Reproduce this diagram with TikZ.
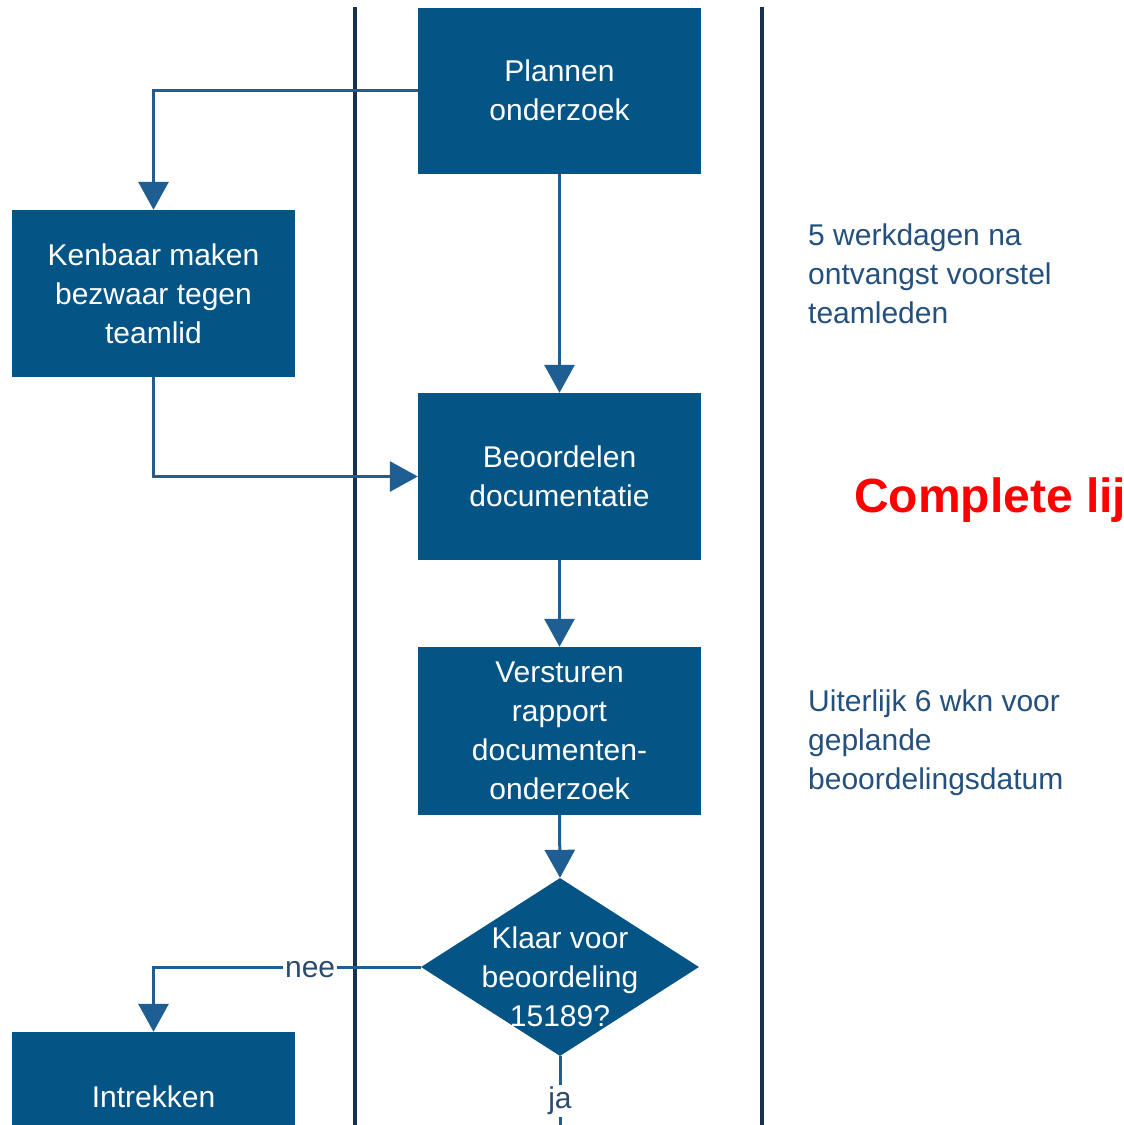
\documentclass[tikz,border=0pt]{standalone}
\usepackage{fontspec}
\setmainfont{Liberation Sans}
\usetikzlibrary{arrows.meta,shapes.geometric}
\definecolor{boxblue}{HTML}{045486}
\definecolor{linkblue}{HTML}{1E5E92}
\definecolor{lanenavy}{HTML}{16324E}
\definecolor{notetext}{HTML}{24507E}
\definecolor{labeltext}{HTML}{2B4C6F}
\definecolor{alertred}{HTML}{FF0000}
\tikzset{
  stepbox/.style={rectangle, fill=boxblue, text=white, align=center, inner sep=0pt,
    minimum width=283pt, font=\fontsize{30}{39}\selectfont},
  decision/.style={diamond, fill=boxblue, inner sep=0pt, minimum width=278pt, minimum height=178pt, aspect=1.56},
  dectext/.style={text=white, align=center, font=\fontsize{30}{39}\selectfont, inner sep=0pt},
  link/.style={draw=linkblue, line width=3pt, -{Triangle[width=30pt,length=28pt]}},
  plainlink/.style={draw=linkblue, line width=3pt},
  lane/.style={draw=lanenavy, line width=4pt},
  note/.style={text=notetext, align=left, anchor=west, inner sep=0pt, font=\fontsize{30}{39}\selectfont},
  flowlabel/.style={fill=white, text=labeltext, inner sep=2pt, font=\fontsize{30}{36}\selectfont},
}
\begin{document}
\begin{tikzpicture}[x=1pt,y=-1pt]
\clip (0,0) rectangle (1124,1125);
\fill[white] (0,0) rectangle (1124,1125);

% swimlane lines
\coordinate (laneAtop) at (355,7);
\coordinate (laneAbot) at (355,1130);
\coordinate (laneBtop) at (762,7);
\coordinate (laneBbot) at (762,1130);
\draw[lane] (laneAtop) -- (laneAbot);
\draw[lane] (laneBtop) -- (laneBbot);

% nodes
\node[stepbox, minimum height=166pt] (plan) at (559.5,90.5) {Plannen\\onderzoek};
\node[stepbox, minimum height=167pt] (kenbaar) at (153.5,293.5) {Kenbaar maken\\bezwaar tegen\\teamlid};
\node[stepbox, minimum height=167pt] (beoord) at (559.5,476.5) {Beoordelen\\documentatie};
\node[stepbox, minimum height=168pt] (verst) at (559.5,731) {Versturen\\rapport\\documenten-\\onderzoek};
\node[decision, label={[dectext, yshift=-10pt]center:{Klaar voor\\beoordeling\\15189?}}] (dec) at (560,967) {};
\node[stepbox, minimum height=196pt, text height=0pt] (intrek) at (153.5,1130) {};
\node[dectext] (intrektext) at (153.5,1097) {Intrekken};
\coordinate (jaend) at (560,1130);

% notes
\node[note] (note1) at (808,274) {5 werkdagen na\\ontvangst voorstel\\teamleden};
\node[note] (note2) at (808,743) {Uiterlijk 6 wkn voor\\geplande\\beoordelingsdatum};
\node[anchor=west, inner sep=0pt, text=alertred, font=\fontsize{48}{56}\selectfont\bfseries] (warn) at (854,500) {Complete lij};

% connectors
\draw[link] (plan.west) -| (kenbaar.north);
\draw[link] (plan.south) -- (beoord.north);
\draw[link] (kenbaar.south) |- (beoord.west);
\draw[link] (beoord.south) -- (verst.north);
\draw[link] (verst.south) -- (dec.north);
\draw[link] (dec.west) -| node[flowlabel, pos=0.207, yshift=-3pt] {nee} (intrek.north);
\draw[plainlink] (dec.south) -- node[flowlabel, pos=0.55, yshift=-4pt] {ja} (jaend);
\end{tikzpicture}
\end{document}
